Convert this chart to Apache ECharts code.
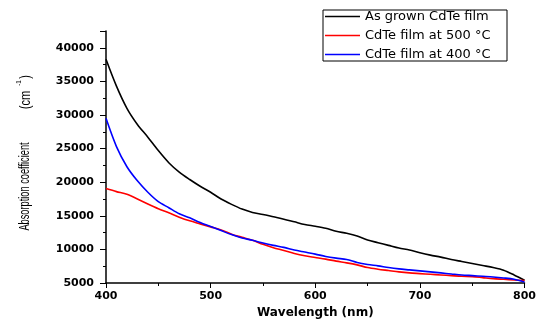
<!DOCTYPE html>
<html>
<head>
<meta charset="utf-8">
<script src="https://cdn.jsdelivr.net/npm/echarts@6/dist/echarts.min.js"></script>
<style>
html,body{margin:0;padding:0;background:#fff;}
#chart{width:539px;height:325px;}
</style>
</head>
<body>
<div id="chart"></div>
<script>
// Wavelength (nm)
const wavelength = [400,410,420,430,440,450,460,470,480,490,500,510,520,530,540,550,560,570,580,590,600,610,620,630,640,650,660,670,680,690,700,710,720,730,740,750,760,770,780,790,800];
// Absorption coefficient (cm^-1)
const asGrown = [38300,34300,31000,28600,26700,24700,22900,21500,20400,19400,18500,17500,16700,16000,15500,15200,14850,14500,14100,13700,13450,13150,12700,12400,12000,11400,11000,10600,10200,9900,9500,9150,8850,8500,8200,7900,7600,7300,6900,6200,5400];
const film500 = [19050,18600,18200,17500,16750,16050,15450,14800,14250,13800,13350,12900,12250,11800,11350,10750,10250,9850,9400,9050,8800,8550,8250,8000,7700,7300,7050,6850,6650,6500,6400,6300,6200,6100,6000,5950,5800,5650,5550,5450,5350];
const film400 = [29500,25300,22300,20200,18500,17100,16200,15300,14700,14000,13400,12800,12200,11700,11350,10950,10600,10300,9900,9600,9300,8950,8700,8500,8050,7750,7550,7300,7100,6950,6800,6650,6500,6350,6200,6100,6000,5900,5750,5550,5150];
const seriesNames = ['As grown CdTe film', 'CdTe film at 500 °C', 'CdTe film at 400 °C'];
const seriesColors = ['#000000', '#ff0000', '#0000ff'];
const yTicks = [5000,10000,15000,20000,25000,30000,35000,40000];
const xTicks = [400,500,600,700,800];

const pairs = arr => wavelength.map((w, i) => [w, arr[i]]);
const values = [asGrown, film500, film400];

const chart = echarts.init(document.getElementById('chart'), null, {renderer: 'canvas'});
const labelFont = {fontFamily: 'DejaVu Sans', fontWeight: 'bold', fontSize: 11, color: '#000'};
const lineIcon = 'path://M0,0L70,0L70,3L0,3Z';

chart.setOption({
  animation: false,
  backgroundColor: '#fff',
  grid: {left: 106, right: 12, top: 31, bottom: 42, containLabel: false},
  legend: {
    left: 323, top: 10,
    orient: 'vertical',
    itemWidth: 35, itemHeight: 12, itemGap: 6,
    padding: [0, 2, 0, 2],
    borderColor: '#000', borderWidth: 1, borderRadius: 0,
    data: seriesNames.map(n => ({name: n, icon: lineIcon})),
    textStyle: {fontFamily: 'DejaVu Sans', fontSize: 13, color: '#000', lineHeight: 12, width: 140}
  },
  xAxis: {
    type: 'value', min: 400, max: 800, interval: 100,
    name: 'Wavelength (nm)', nameLocation: 'middle', nameGap: 22,
    nameTextStyle: {fontFamily: 'DejaVu Sans', fontWeight: 'bold', fontSize: 12, color: '#000'},
    axisLine: {show: true, onZero: false, lineStyle: {color: '#000', width: 1.5}},
    axisTick: {show: true, inside: false, length: 5, lineStyle: {color: '#000', width: 1}},
    minorTick: {show: true, splitNumber: 2, length: 3, lineStyle: {color: '#000', width: 1}},
    axisLabel: Object.assign({margin: 8, formatter: v => xTicks.includes(v) ? String(v) : ''}, labelFont),
    splitLine: {show: false}
  },
  yAxis: {
    type: 'value', min: 5000, max: 42500, interval: 5000,
    axisLine: {show: true, onZero: false, lineStyle: {color: '#000', width: 1.5}},
    axisTick: {show: true, inside: false, length: 6, lineStyle: {color: '#000', width: 1}},
    minorTick: {show: true, splitNumber: 2, length: 3, lineStyle: {color: '#000', width: 1}},
    axisLabel: Object.assign({margin: 12, formatter: v => yTicks.includes(v) ? String(v) : ''}, labelFont),
    splitLine: {show: false}
  },
  graphic: [
    {type: 'text', x: 25, y: 186.5, rotation: Math.PI / 2, scaleX: 0.66,
     style: {text: 'Absorption coefficient', fontFamily: 'Liberation Sans', fontSize: 14, fill: '#000', align: 'center', verticalAlign: 'middle'}},
    {type: 'text', x: 26, y: 100, rotation: Math.PI / 2, scaleX: 0.8,
     style: {text: '(cm', fontFamily: 'Liberation Sans', fontSize: 14, fill: '#000', align: 'center', verticalAlign: 'middle'}},
    {type: 'text', x: 19, y: 83, rotation: Math.PI / 2, scaleX: 0.8,
     style: {text: '-1', fontFamily: 'Liberation Sans', fontSize: 8, fill: '#000', align: 'center', verticalAlign: 'middle'}},
    {type: 'text', x: 26, y: 77, rotation: Math.PI / 2, scaleX: 0.8,
     style: {text: ')', fontFamily: 'Liberation Sans', fontSize: 14, fill: '#000', align: 'center', verticalAlign: 'middle'}}
  ],
  series: values.map((arr, i) => ({
    name: seriesNames[i],
    type: 'line',
    data: pairs(arr),
    symbol: 'none',
    smooth: 0.3,
    lineStyle: {color: seriesColors[i], width: 1.6},
    itemStyle: {color: seriesColors[i]}
  }))
});
</script>
</body>
</html>
